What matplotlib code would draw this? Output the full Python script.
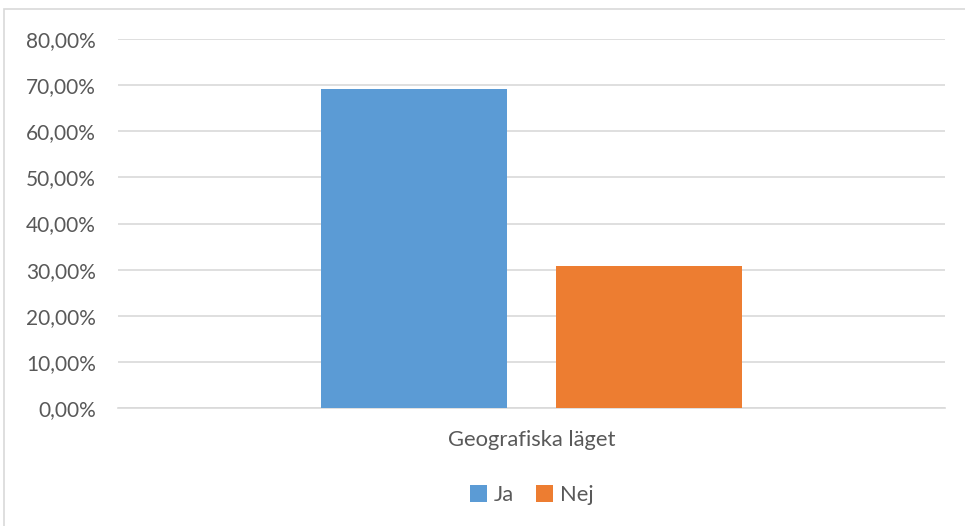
import matplotlib.pyplot as plt
from matplotlib.patches import Rectangle
from matplotlib.ticker import FuncFormatter

categories = ['Geografiska läget']
series = ['Ja', 'Nej']
values = [0.6923, 0.3077]
colors = ['#5B9BD5', '#ED7D31']

plt.rcParams['font.family'] = ['Lato', 'DejaVu Sans']

fig = plt.figure(figsize=(9.65, 5.26), dpi=100)
# outer chart border
fig.patches.append(Rectangle((4 / 965, -0.01), 1.0, (526 - 9) / 526 + 0.01,
                             transform=fig.transFigure, fill=False,
                             edgecolor='#D9D9D9', linewidth=1.2))

ax = fig.add_axes([118 / 965, 118 / 526, (945 - 118) / 965, (408 - 39) / 526])

width = 0.225
offsets = [-0.1425, 0.1425]
for name, val, col, off in zip(series, values, colors, offsets):
    ax.bar(0 + off, val, width=width, color=col, label=name, zorder=3)

ax.set_xlim(-0.5, 0.5)
ax.set_ylim(0, 0.8)
ax.set_yticks([i / 10 for i in range(9)])
ax.yaxis.set_major_formatter(FuncFormatter(lambda v, p: f'{v * 100:.2f}%'.replace('.', ',')))
ax.set_xticks([0])
ax.set_xticklabels(categories)
ax.tick_params(axis='both', length=0, labelsize=15, colors='#595959')
ax.tick_params(axis='x', pad=16, labelsize=15.8)
ax.tick_params(axis='y', pad=16)

ax.grid(axis='y', color='#D9D9D9', linewidth=1.2, zorder=0)
for s in ['left', 'right', 'top']:
    ax.spines[s].set_visible(False)
ax.spines['bottom'].set_color('#D9D9D9')
ax.spines['bottom'].set_linewidth(1.2)

leg = ax.legend(loc='center', bbox_to_anchor=(0.5, -0.237), ncol=2, frameon=False,
                fontsize=15.8, handlelength=0.8, handleheight=0.8,
                handletextpad=0.3, columnspacing=1.0)
for t in leg.get_texts():
    t.set_color('#595959')

fig.savefig('out.png', dpi=100)
